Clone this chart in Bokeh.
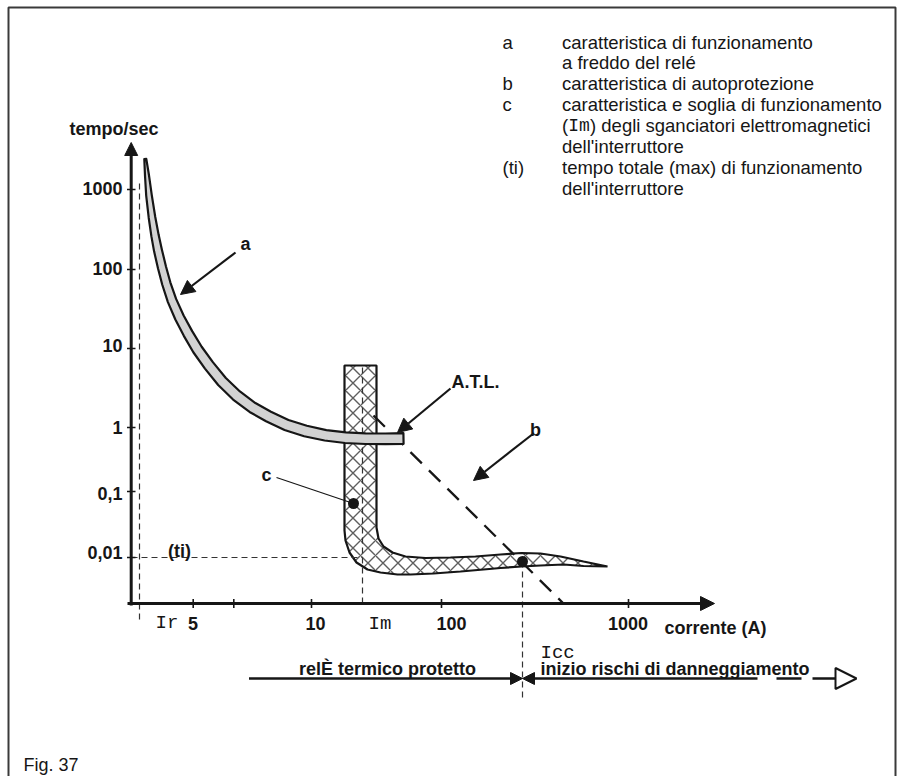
import numpy as np
from bokeh.plotting import figure
from bokeh.models import Range1d, Arrow, NormalHead
from bokeh.core.properties import value
from bokeh.embed import file_html
from bokeh.resources import INLINE

W, H = 902, 776
INK = "#161616"
SANS = "Liberation Sans"
MONO = "Liberation Mono"

# ---- time axis (seconds), schematic positions along the vertical axis
time_labels = ["1000", "100", "10", "1", "0,1", "0,01"]
time_tick_y = [189, 269, 348, 427, 491, 557]
time_label_y = [188, 268, 345, 427, 493, 552]

# ---- current axis (A), schematic positions along the horizontal axis
current_labels = ["5", "10", "100", "1000"]
current_label_x = [192.5, 315, 451, 627.5]
current_tick_x = [192.7, 233.3, 311, 441, 628]

# reference currents / time
Ir_x, Im_x, Icc_x = 139, 362, 522
ti_y = 557

# ---- curve a: cold-start relay characteristic (centre line and band half-width)
a_x = [144.8, 146.5, 148.5, 151.5, 154.5, 157.5, 161.5, 165.8, 171.5, 179, 187.5, 197,
       208.5, 221.5, 236, 252, 268, 286, 305, 325, 345, 365, 385, 403]
a_y = [158.5, 175, 195, 217, 235, 250, 267, 283, 300, 317, 333, 349,
       365, 381, 395, 407, 416, 424.5, 430.5, 434.8, 437.2, 438.2, 438.3, 438]
a_half = [1.0, 2.0, 2.8, 3.3, 3.7, 4.0, 4.1, 4.2, 4.4, 4.6, 4.8, 5.0,
          5.1, 5.2, 5.3, 5.3, 5.4, 5.4, 5.4, 5.3, 5.3, 5.3, 5.3, 5.3]

# ---- curve c: magnetic release characteristic and threshold
c_x = [344, 376, 376, 378, 383, 392, 405, 425, 450, 475, 500, 521, 540, 560, 583, 607,
       583, 563, 540, 521, 500, 483, 460, 433, 410, 397, 380, 367, 356, 349, 345, 344]
c_y = [365, 365, 527, 538, 546, 552, 556, 557.5, 557, 556, 554, 552.5, 553, 556, 561, 566,
       565.5, 564, 565, 566, 567.5, 569, 571, 573, 574, 574, 572, 569, 562, 552, 540, 530]

# ---- curve b: self-protection characteristic
b_x = [373, 563]
b_y = [415, 603]

# ---- legend
legend_keys = ["a", "", "b", "c", "", "", "(ti)", ""]
legend_text = ["caratteristica di funzionamento",
               "a freddo del relé",
               "caratteristica di autoprotezione",
               "caratteristica e soglia di funzionamento",
               None,
               "dell'interruttore",
               "tempo totale (max) di funzionamento",
               "dell'interruttore"]

p = figure(width=W, height=H, x_range=Range1d(0, W), y_range=Range1d(H, 0),
           output_backend="svg", toolbar_location=None, min_border=0,
           x_axis_location=None, y_axis_location=None)
p.grid.visible = False
p.outline_line_color = None
p.background_fill_color = "white"
p.border_fill_color = "white"


def txt(x, y, s, size="18px", bold=False, font=SANS, align="left"):
    p.text(x=[x], y=[y], text=[s], text_font=value(font), text_font_size=size,
           text_font_style="bold" if bold else "normal", text_align=align,
           text_baseline="alphabetic", text_color=INK)


def band_outline(cx, cy, half):
    """Closed outline of a band of given half-width around a centre line."""
    cx, cy, half = map(np.asarray, (cx, cy, half))
    dx, dy = np.gradient(cx), np.gradient(cy)
    n = np.hypot(dx, dy)
    nx, ny = -dy / n, dx / n
    ux, uy = cx + nx * half, cy + ny * half
    lx, ly = cx - nx * half, cy - ny * half
    return list(ux) + list(lx[::-1]), list(uy) + list(ly[::-1])


# frame around the figure
p.line([8, 8, 895, 895], [H + 5, 7, 7, H + 5], line_color="#3a3a3a", line_width=2)

# thin dashed guides
dash = dict(line_color="#333333", line_width=1.2, line_dash="6 4")
p.line([Ir_x, Ir_x], [183, 622], **dash)
p.line([Icc_x, Icc_x], [561, 700], **dash)

# curve c (hatched)
p.patch(c_x, c_y, fill_color="white", hatch_pattern="x", hatch_scale=15,
        hatch_weight=1.4, hatch_color="#5e5e5e", line_color=INK, line_width=2.2)
p.line([Im_x, Im_x], [367, 603], **dash)
p.line([131, Im_x], [ti_y, ti_y], **dash)

# curve b (dashed)
p.line(b_x, b_y, line_color=INK, line_width=2.3, line_dash="16 10")

# curve a (grey band)
bx, by = band_outline(a_x, a_y, a_half)
p.patch(bx, by, fill_color="#d2d2d2", line_color=INK, line_width=2.2,
        line_join="round")

# dots
p.scatter([353, Icc_x], [503, 561], size=11, marker="circle",
          fill_color=INK, line_color=None)
p.line([276, 353], [477, 503], line_color=INK, line_width=1.2)

# axes
p.add_layout(Arrow(end=NormalHead(size=13, fill_color=INK, line_color=INK, line_width=1),
                   x_start=130.7, y_start=605, x_end=130.7, y_end=142,
                   line_color=INK, line_width=3))
p.add_layout(Arrow(end=NormalHead(size=14, fill_color=INK, line_color=INK, line_width=1),
                   x_start=127, y_start=603, x_end=714, y_end=603,
                   line_color=INK, line_width=3))
p.segment(x0=[126.5] * len(time_tick_y), y0=time_tick_y,
          x1=[135] * len(time_tick_y), y1=time_tick_y, line_color=INK, line_width=1.6)
p.segment(x0=current_tick_x, y0=[598.5] * len(current_tick_x),
          x1=current_tick_x, y1=[607.5] * len(current_tick_x), line_color=INK, line_width=1.6)

for lab, y in zip(time_labels, time_label_y):
    txt(122, y, lab, bold=True, align="right")
for lab, x in zip(current_labels, current_label_x):
    txt(x, 623, lab, bold=True, align="center")
txt(155, 622, "Ir", size="19px", font=MONO)
txt(368, 623, "Im", size="19px", font=MONO)
txt(664, 627, "corrente (A)", bold=True)
txt(69, 128, "tempo/sec", bold=True)
txt(179, 550, "(ti)", bold=True, align="center")

# callouts
head = lambda: NormalHead(size=14, fill_color=INK, line_color=INK, line_width=1)
for (x0, y0, x1, y1) in [(235, 252, 180, 294), (450, 388, 397, 432), (533, 433, 473, 480)]:
    p.add_layout(Arrow(end=head(), x_start=x0, y_start=y0, x_end=x1, y_end=y1,
                       line_color=INK, line_width=2.2))
txt(245, 243, "a", bold=True, align="center")
txt(475, 381, "A.T.L.", bold=True, align="center")
txt(535, 429, "b", bold=True, align="center")
txt(266, 474, "c", bold=True, align="center")

# zones along the current axis
small_head = lambda: NormalHead(size=12, fill_color=INK, line_color=INK, line_width=1)
p.add_layout(Arrow(end=small_head(), x_start=248.5, y_start=678, x_end=Icc_x, y_end=678,
                   line_color=INK, line_width=2.4))
p.add_layout(Arrow(end=small_head(), x_start=757, y_start=678, x_end=Icc_x, y_end=678,
                   line_color=INK, line_width=2.4))
p.line([776, 837], [678, 678], line_color=INK, line_width=2.4, line_dash="25 11")
p.add_layout(Arrow(end=NormalHead(size=21, fill_color="white", line_color=INK, line_width=2),
                   x_start=835, y_start=678, x_end=856, y_end=678,
                   line_color=INK, line_width=2.4))
txt(387, 668, "relÈ termico protetto", bold=True, align="center")
txt(540, 652, "Icc", size="19px", font=MONO)
txt(540, 668, "inizio rischi di danneggiamento", bold=True)

# legend
for i, (k, t) in enumerate(zip(legend_keys, legend_text)):
    y = 41.5 + 20.9 * i
    if k:
        txt(502, y, k, size="18.5px")
    if t is not None:
        txt(561.5, y, t, size="18.5px")
y_im = 41.5 + 20.9 * 4
txt(561.5, y_im, "(", size="18.5px")
txt(567.7, y_im, "Im", size="18px", font=MONO)
txt(589.5, y_im, ") degli sganciatori elettromagnetici", size="18.5px")

txt(23, 764, "Fig. 37", size="18px")

open("out.html", "w").write(file_html(p, INLINE))
